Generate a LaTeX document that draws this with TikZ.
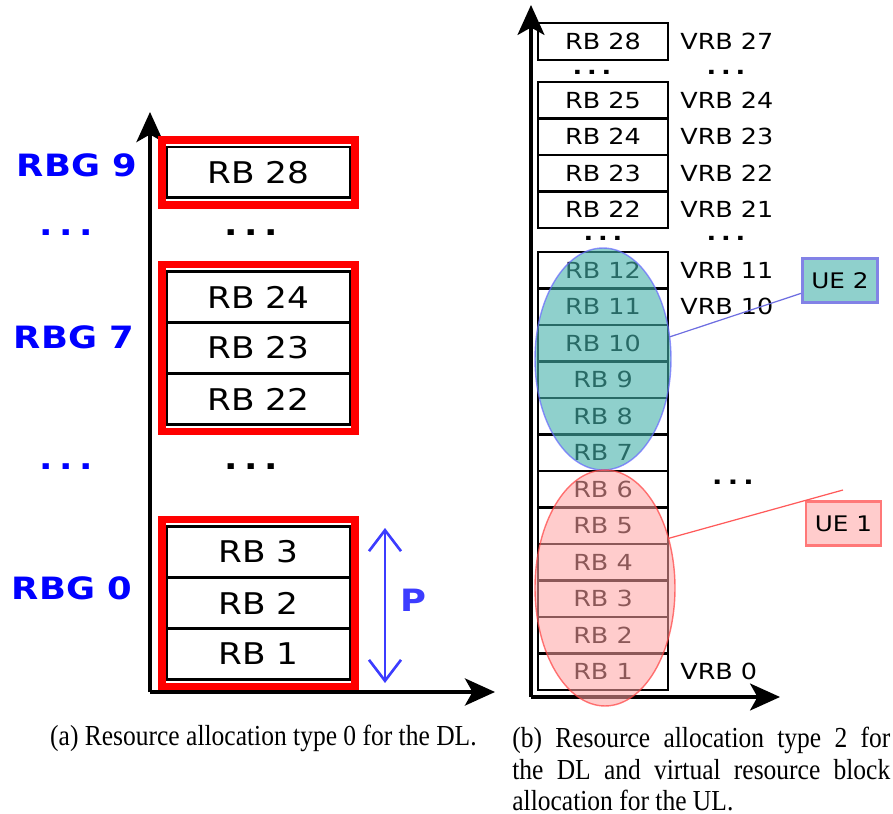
\documentclass[tikz,border=0pt]{standalone}
\usepackage{fontspec}
\usetikzlibrary{arrows.meta,positioning,shapes.geometric,fit}
\newfontfamily\rbfont[FakeStretch=1.15]{DejaVu Sans}
\newfontfamily\capfont[FakeStretch=0.88]{Liberation Serif}
\definecolor{rbgblue}{RGB}{0,0,255}
\definecolor{pblue}{RGB}{60,60,255}
\definecolor{ueteal}{RGB}{68,177,170}
\definecolor{uepink}{RGB}{255,162,162}
\definecolor{tealbox}{RGB}{143,208,204}
\definecolor{pinkbox}{RGB}{255,204,204}
\definecolor{tealedge}{RGB}{130,130,230}
\definecolor{pinkedge}{RGB}{255,120,120}
\definecolor{tealline}{RGB}{110,110,225}
\definecolor{pinkline}{RGB}{255,90,90}
% three spaced dots
\newcommand{\vdotsrow}{.\hspace{0.22em}.\hspace{0.22em}.}

\begin{document}
\begin{tikzpicture}[x=0.02cm,y=-0.02cm,
  rbbox/.style={draw,line width=1.7pt,outer sep=0pt,inner sep=0pt,minimum width=3.68cm,minimum height=1.02cm,font=\rbfont\fontsize{17}{20}\selectfont},
  rbgframe/.style={draw=red,line width=4.5pt,inner xsep=0.085cm,inner ysep=0.14cm},
  rbglabel/.style={text=rbgblue,inner sep=0pt,font=\rbfont\bfseries\fontsize{17.5}{20}\selectfont},
  vbox/.style={draw,line width=1.4pt,outer sep=0pt,inner sep=0pt,minimum width=2.6cm,minimum height=0.73cm,font=\rbfont\fontsize{12.6}{14}\selectfont},
  vrb/.style={inner sep=0pt,font=\rbfont\fontsize{12.6}{14}\selectfont},
  dotrow/.style={inner sep=0pt,font=\rbfont\bfseries\fontsize{12.6}{14}\selectfont},
  uebox/.style={line width=1.6pt,inner sep=0pt,minimum width=1.5cm,minimum height=0.87cm,font=\rbfont\fontsize{12.2}{14}\selectfont},
  axis/.style={line width=2.3pt,-{Stealth[length=0.6cm,width=0.54cm,inset=0.15cm]}},
  caption/.style={inner sep=0pt,font=\capfont\fontsize{16.5}{17.8}\selectfont}
]
\useasboundingbox (0,0) rectangle (893,814);

% (a) type 0: resource block groups
\coordinate (lorig) at (150,692);
\coordinate (ltop) at (150,112);
\coordinate (lright) at (495,692);
\draw[axis] (lorig) -- (ltop);
\draw[axis] (lorig) -- (lright);

\node[rbbox] (l1) at (258.5,654) {RB 1};
\node[rbbox,above=0pt of l1] (l2) {RB 2};
\node[rbbox,above=0pt of l2] (l3) {RB 3};
\node[rbbox] (l22) at (258.5,399) {RB 22};
\node[rbbox,above=0pt of l22] (l23) {RB 23};
\node[rbbox,above=0pt of l23] (l24) {RB 24};
\node[rbbox] (l28) at (258.5,172.5) {RB 28};

\node[rbgframe,fit=(l1)(l3)] (rbg0) {};
\node[rbgframe,fit=(l22)(l24)] (rbg7) {};
\node[rbgframe,fit=(l28)] (rbg9) {};

\node[rbglabel] (rbg9lbl) at (77,165) {RBG 9};
\node[rbglabel] (rbg7lbl) at (74,337) {RBG 7};
\node[rbglabel] (rbg0lbl) at (72,588) {RBG 0};
\node[rbglabel] (bdots1) at (66,233) {\vdotsrow};
\node[rbglabel] (bdots2) at (66,467) {\vdotsrow};
\node[rbglabel,text=black] (ldots1) at (251,233) {\vdotsrow};
\node[rbglabel,text=black] (ldots2) at (251,467) {\vdotsrow};

% group size P
\coordinate (pbot) at (385,683);
\coordinate (ptop) at (385,528);
\draw[pblue,line width=1.5pt,{Straight Barb[length=0.42cm,width=0.64cm]}-{Straight Barb[length=0.42cm,width=0.64cm]}] (pbot) -- (ptop);
\node[rbglabel,text=pblue] (plbl) at (413,600) {P};

% (b) type 2: virtual resource blocks
\coordinate (rorig) at (531,697);
\coordinate (rtop) at (531,5);
\coordinate (rright) at (780,697);
\draw[axis,line width=1.8pt] (rorig) -- (rtop);
\draw[axis,line width=1.8pt] (rorig) -- (rright);

\node[vbox] (r1) at (603,671.75) {RB 1};
\node[vbox,above=0pt of r1] (r2) {RB 2};
\node[vbox,above=0pt of r2] (r3) {RB 3};
\node[vbox,above=0pt of r3] (r4) {RB 4};
\node[vbox,above=0pt of r4] (r5) {RB 5};
\node[vbox,above=0pt of r5] (r6) {RB 6};
\node[vbox,above=0pt of r6] (r7) {RB 7};
\node[vbox,above=0pt of r7] (r8) {RB 8};
\node[vbox,above=0pt of r8] (r9) {RB 9};
\node[vbox,above=0pt of r9] (r10) {RB 10};
\node[vbox,above=0pt of r10] (r11) {RB 11};
\node[vbox,above=0pt of r11] (r12) {RB 12};
\node[vbox] (r22) at (603,209.75) {RB 22};
\node[vbox,above=0pt of r22] (r23) {RB 23};
\node[vbox,above=0pt of r23] (r24) {RB 24};
\node[vbox,above=0pt of r24] (r25) {RB 25};
\node[vbox] (r28) at (603,41.5) {RB 28};

\node[vrb,right=0.24cm of r28] (v27) {VRB 27};
\node[vrb,right=0.24cm of r25] (v24) {VRB 24};
\node[vrb,right=0.24cm of r24] (v23) {VRB 23};
\node[vrb,right=0.24cm of r23] (v22) {VRB 22};
\node[vrb,right=0.24cm of r22] (v21) {VRB 21};
\node[vrb,right=0.24cm of r12] (v11) {VRB 11};
\node[vrb,right=0.24cm of r11] (v10) {VRB 10};
\node[vrb,right=0.24cm of r1] (v0) {VRB 0};

\node[dotrow] (rdots1) at (592,72) {\vdotsrow};
\node[dotrow] (rdots2) at (603,238) {\vdotsrow};
\node[dotrow] (vdots1) at (726,72) {\vdotsrow};
\node[dotrow] (vdots2) at (726,238) {\vdotsrow};
\node[dotrow,font=\rbfont\bfseries\fontsize{13.5}{15}\selectfont] (vdots3) at (733,482) {\vdotsrow};

% users
\node[ellipse,draw=blue!60,line width=0.8pt,draw opacity=0.7,fill=ueteal,fill opacity=0.6,inner sep=0pt,outer sep=0pt,minimum width=2.72cm,minimum height=4.44cm] (ue2area) at (603,359) {};
\node[ellipse,draw=red!75,line width=0.8pt,draw opacity=0.7,fill=uepink,fill opacity=0.55,inner sep=0pt,outer sep=0pt,minimum width=2.8cm,minimum height=4.72cm] (ue1area) at (605,588) {};

\node[uebox,draw=tealedge,fill=tealbox] (ue2) at (840,280.5) {UE 2};
\node[uebox,draw=pinkedge,fill=pinkbox] (ue1) at (843.5,523.5) {UE 1};
\coordinate (ue1tip) at (843,490);
\draw[tealline,line width=0.7pt] (ue2area) -- (ue2);
\draw[pinkline,line width=0.7pt] (ue1area.38) -- (ue1tip);

% captions
\node[caption,anchor=base east] (capa) at (477,745) {(a) Resource allocation type 0 for the DL.};
\node[caption,anchor=north west,text width=7.56cm,align=justify] (capb) at (512,727)
  {(b) Resource allocation type 2 for\linebreak the DL and virtual resource block\linebreak allocation for the UL.};
\end{tikzpicture}
\end{document}
